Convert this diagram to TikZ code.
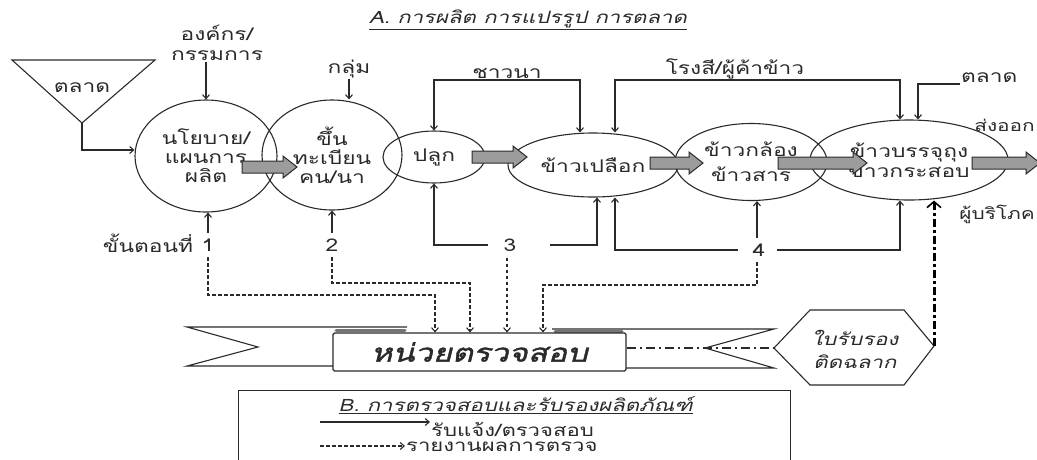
\documentclass[tikz,border=0pt]{standalone}
\usepackage{fontspec}
\setmainfont[Script=Thai]{Loma}
\newfontfamily\thaiw[Script=Thai,FakeStretch=1.3]{Loma}
\newfontfamily\thaiwi[Script=Thai,FakeStretch=1.3,FakeSlant=0.25]{Loma}
\newfontfamily\thaibi[Script=Thai,FakeStretch=1.3,FakeSlant=0.25,FakeBold=1.5]{Loma}
\usetikzlibrary{shapes.geometric,arrows.meta}
\definecolor{ink}{HTML}{2A2A2A}
\definecolor{barfill}{HTML}{9C9C9C}
\newcommand\blockarrow[3]{% x, y, length
  \draw[flowst] (#1,#2) ++(0,-6) -- ++({#3-14},0) -- ++(0,-5) -- ++(14,11)
    -- ++(-14,11) -- ++(0,-5) -- ++({14-#3},0) -- cycle;}
\begin{document}
\begin{tikzpicture}[x=1pt,y=-1pt,
  every node/.style={text=ink},
  lbl/.style={font=\thaiw\fontsize{17.5}{19}\selectfont, inner sep=1pt, align=center},
  edge lbl/.style={font=\thaiw\fontsize{16}{18}\selectfont, inner sep=0pt, anchor=east},
  num/.style={lbl, inner ysep=6pt},
  bubble/.style={ellipse, draw=ink, line width=1.1pt, inner sep=0pt, align=center,
    font=\thaiw\fontsize{17.5}{19}\selectfont},
  line/.style={draw=ink, line width=1.1pt},
  arr/.style={line, -{Straight Barb[length=4pt,width=7pt]}},
  darr/.style={arr, dash pattern=on 3.5pt off 2.5pt},
  flowst/.style={draw=ink, fill=barfill, line width=1pt, line join=miter},
]
\useasboundingbox (0,0) rectangle (1037,459);

% title A
\node[font=\thaiwi\fontsize{17}{19}\selectfont] (tA) at (528,20) {\underline{A. การผลิต การแปรรูป การตลาด}};

% market funnel
\draw[line] (12,60) -- (155,60) -- (82,123) -- cycle;
\node[lbl] (mkt) at (82,88) {ตลาด};
\coordinate (apex) at (82,123);

% bubbles
\node[bubble, minimum width=142pt, minimum height=112pt] (e1) at (206,156) {นโยบาย/\\แผนการ\\ผลิต};
\node[bubble, minimum width=140pt, minimum height=110pt] (e2) at (332,155) {ขึ้น\\ทะเบียน\\คน/นา};
\node[bubble, minimum width=102pt, minimum height=52pt] (e3) at (434,157) {ปลูก};
\node[bubble, minimum width=170pt, minimum height=64pt] (e4) at (593,165) {ข้าวเปลือก};
\node[bubble, minimum width=152pt, minimum height=77pt] (e5) at (751,162) {ข้าวกล้อง\\[6pt]ข้าวสาร};
\node[bubble, minimum width=198pt, minimum height=80pt] (e6) at (909,160) {ข้าวบรรจุถุง\\ข้าวกระสอบ};

% flow arrows
\blockarrow{242}{167}{55}
\blockarrow{472}{157}{55}
\blockarrow{650}{163}{53}
\blockarrow{778}{163}{89}
\blockarrow{972}{163}{68}

\draw[arr] (apex) |- ([yshift=6pt]e1.west);

% top labels
\node[lbl] (org) at (217,43) {องค์กร/\\[1pt]กรรมการ};
\draw[arr] (org.south -| e1.north) -- (e1.north);
\node[lbl] (grp) at (349,69) {กลุ่ม};
\draw[arr] (grp.south) -- (grp.south |- e2.north);
\node[lbl, anchor=south] (farm) at (507,80) {ชาวนา};
\draw[arr] (farm.south) -| (e3.north);
\draw[arr] (farm.south) -| ([xshift=-13pt]e4.north);
\node[lbl, anchor=south] (mill) at (735,80) {โรงสี/ผู้ค้าข้าว};
\draw[arr] (mill.south) -| ([xshift=22pt]e4.north);
\draw[arr] (mill.south) -| ([xshift=-9pt]e6.north);
\node[lbl, anchor=south west] (mkt2) at (960,84) {ตลาด};
\draw[arr] (mkt2.south west) -| ([xshift=9pt]e6.north);
\node[edge lbl] (exp) at (1035,125) {ส่งออก};
\node[edge lbl] (cons) at (1035,214) {ผู้บริโภค};

% banner
\draw[line] (407,327) -- (187,327) -- (258,347) -- (187,366) -- (333,366);
\draw[line] (552,329) -- (774,329) -- (705,348) -- (774,368) -- (626,368);
\draw[draw=ink!65, line width=3pt, line cap=round] (336,330.5) -- (405,330.5);
\draw[draw=ink!65, line width=3pt, line cap=round] (555,331) -- (622,331);
\node[draw=ink, line width=1.1pt, rounded corners=1.5pt, minimum width=293pt, minimum height=38pt,
  inner sep=0pt, font=\thaibi\fontsize{25}{26}\selectfont] (insp) at (479.5,352) {หน่วยตรวจสอบ};

% certificate hexagon
\coordinate (certL) at (774,348);
\coordinate (certR) at (934,346);
\draw[line] (certL) -- (810,310) -- (904,310) -- (certR) -- (904,385) -- (810,385) -- cycle;
\node[font=\thaiwi\fontsize{17}{23}\selectfont, align=center] (cert) at (855,349) {ใบรับรอง\\ติดฉลาก};
\draw[line, dash pattern=on 9pt off 4pt on 2pt off 4pt] (certL -| insp.east) -- (certL);
\draw[draw=black, line width=3pt, dash pattern=on 8pt off 3pt on 3pt off 3pt,
  -{Straight Barb[length=6pt,width=14pt,line width=1.6pt]}] (certR) -- (certR |- e6.south);

% steps
\node[lbl] (step) at (148,243) {ขั้นตอนที่};
\node[num] (n1) at (208,245) {1};
\node[num] (n2) at (332,245) {2};
\node[num, inner xsep=15pt] (n3) at (510,245) {3};
\node[num, inner xsep=11pt] (n4) at (759,250) {4};
\coordinate (d1) at (435,295);
\coordinate (d2) at (470,283);
\coordinate (d4) at (543,285);

\draw[arr] (n1.north) -- (n1.north |- e1.south);
\draw[darr] (n1.south) |- (d1) -- (d1 |- insp.north);
\draw[arr] (n2.north) -- (n2.north |- e2.south);
\draw[darr] (n2.south) |- (d2) -- (d2 |- insp.north);
\draw[arr] (n3.west) -| (e3.south);
\draw[arr] ([xshift=18pt]n3.east) -| ([xshift=4pt]e4.south);
\draw[darr] ([xshift=-3pt]n3.south) -- ([xshift=-3pt]n3.south |- insp.north);
\draw[arr] ([xshift=-3pt]n4.west) -| ([xshift=22pt]e4.south);
\draw[arr] (n4.east) -| ([xshift=-9pt]e6.south);
\draw[arr] ([xshift=-2pt]n4.north) -- ([xshift=-2pt]n4.north |- e5.south);
\draw[darr] ([xshift=-2pt]n4.south) |- (d4) -- (d4 |- insp.north);

% legend
\node[draw=ink, line width=1.1pt, minimum width=552pt, minimum height=85pt, anchor=north west, inner sep=0pt] (legbox) at (238,390) {};
\node[font=\thaiwi\fontsize{17}{19}\selectfont, anchor=west] (tB) at (335,405) {\underline{B. การตรวจสอบและรับรองผลิตภัณฑ์}};
\node[font=\thaiw\fontsize{17}{19}\selectfont, anchor=west, inner sep=1pt] (leg1) at (430,429) {รับแจ้ง/ตรวจสอบ};
\node[font=\thaiw\fontsize{17}{19}\selectfont, anchor=west, inner sep=1pt] (leg2) at (405,447) {รายงานผลการตรวจ};
\coordinate (l1s) at (320,422);
\coordinate (l2s) at (320,446);
\draw[arr] (l1s) -- (l1s -| leg1.west);
\draw[darr] (l2s) -- (l2s -| leg2.west);
\end{tikzpicture}
\end{document}
